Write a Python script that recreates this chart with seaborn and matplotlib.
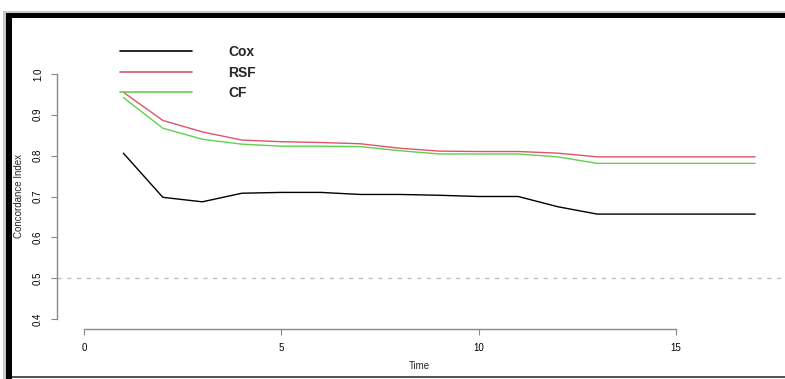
import matplotlib
matplotlib.use("Agg")
import matplotlib.pyplot as plt
import seaborn as sns
import pandas as pd
from matplotlib.patches import Rectangle

times = list(range(1, 18))
cox = [0.806, 0.698, 0.687, 0.708, 0.710, 0.710, 0.705, 0.705, 0.703, 0.700,
       0.700, 0.675, 0.657, 0.657, 0.657, 0.657, 0.657]
rsf = [0.955, 0.886, 0.858, 0.838, 0.834, 0.832, 0.829, 0.818, 0.811, 0.810,
       0.810, 0.806, 0.797, 0.797, 0.797, 0.797, 0.797]
cf = [0.942, 0.867, 0.840, 0.828, 0.823, 0.823, 0.822, 0.812, 0.804, 0.804,
      0.804, 0.797, 0.781, 0.781, 0.781, 0.781, 0.781]
models = ["Cox", "RSF", "CF"]
colors = ["#000000", "#DF536B", "#61D04F"]
xticks = [0, 5, 10, 15]
yticks = [0.4, 0.5, 0.6, 0.7, 0.8, 0.9, 1.0]
ref_value = 0.5

df = pd.DataFrame({
    "Time": times * 3,
    "C": cox + rsf + cf,
    "Model": [m for m in models for _ in times],
})

sns.set_style("white")
plt.rcParams["font.family"] = ["Liberation Sans", "DejaVu Sans"]

W, H = 785, 379
fig = plt.figure(figsize=(W / 100, H / 100), dpi=100)
fig.patch.set_facecolor("white")

def px(x0, y0, x1, y1):
    return [x0 / W, 1 - y1 / H, (x1 - x0) / W, (y1 - y0) / H]

ax = fig.add_axes(px(57, 64, 782, 329))
ax.set_facecolor("white")

sns.lineplot(data=df, x="Time", y="C", hue="Model", palette=dict(zip(models, colors)),
             hue_order=models, ax=ax, linewidth=1.0, legend=True)
ax.axhline(ref_value, color="#BEBEBE", linestyle=(0, (3, 4)), linewidth=1.0, zorder=0)

ax.set_xlim(-0.68, 17.68)
ax.set_ylim(0.376, 1.024)
ax.set_xticks(xticks)
ax.set_yticks(yticks)
ax.set_xticklabels([str(t) for t in xticks], fontsize=7)
ax.set_yticklabels([f"{t:.1f}" for t in yticks], fontsize=7, rotation=90, va="center")
for s in ["top", "right"]:
    ax.spines[s].set_visible(False)
for s in ["left", "bottom"]:
    ax.spines[s].set_color("#888888")
    ax.spines[s].set_linewidth(1.0)
ax.spines["bottom"].set_bounds(0, 15)
ax.spines["left"].set_bounds(0.4, 1.0)
ax.tick_params(axis="both", direction="out", length=4, width=0.8, color="#888888",
               labelcolor="black", left=True, bottom=True)
ax.tick_params(axis="x", pad=6)
ax.tick_params(axis="y", pad=6)
ax.set_xlabel("Time", fontsize=7, va="center")
ax.set_ylabel("Concordance Index", fontsize=7, va="center")
ax.xaxis.set_label_coords(0.5, -(366 - 329) / (329 - 64))
ax.yaxis.set_label_coords(-(57 - 19) / (782 - 57), 0.5)

leg = ax.legend(loc="upper left", bbox_to_anchor=(120 / W, 1 - 45 / H),
                bbox_transform=fig.transFigure, frameon=False,
                prop={"size": 10, "weight": "bold"}, handlelength=5.2,
                handletextpad=2.6, labelspacing=0.47, borderpad=0, borderaxespad=0)
for line in leg.get_lines():
    line.set_linewidth(1.2)

# outer frame
fig.add_artist(Rectangle((3 / W, 1 - 379 / H), 3 / W, (379 - 11) / H,
                         transform=fig.transFigure, color="#C8C8C8", lw=0))
fig.add_artist(Rectangle((3 / W, 1 - 13 / H), (W - 3) / W, 2 / H,
                         transform=fig.transFigure, color="#C8C8C8", lw=0))
fig.add_artist(Rectangle((6 / W, 1 - 18 / H), (W - 6) / W, 5 / H,
                         transform=fig.transFigure, color="black", lw=0))
fig.add_artist(Rectangle((6 / W, 1 - 379 / H), 6 / W, (379 - 13) / H,
                         transform=fig.transFigure, color="black", lw=0))
fig.add_artist(Rectangle((12 / W, 1 - 378 / H), (W - 12) / W, 2 / H,
                         transform=fig.transFigure, color="#555555", lw=0))

fig.savefig("out.png", dpi=100, facecolor="white")
